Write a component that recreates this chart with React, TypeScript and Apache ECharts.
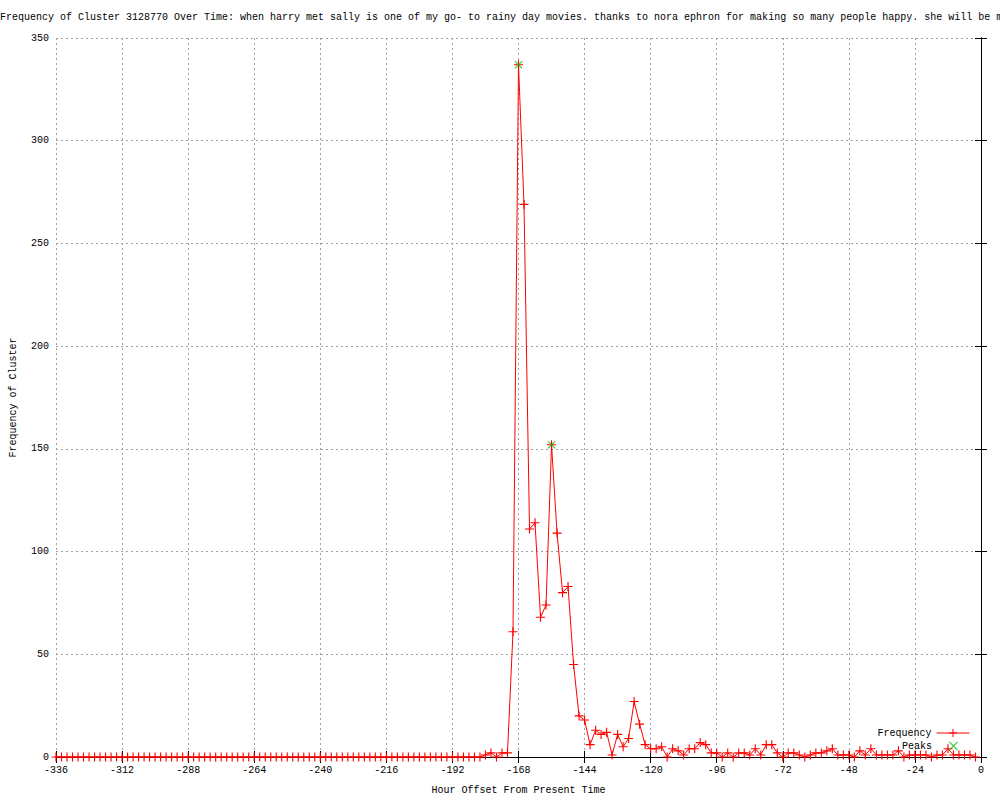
import React, { useEffect, useRef } from "react";
import * as echarts from "echarts";

const TITLE =
  "Frequency of Cluster 3128770 Over Time: when harry met sally is one of my go- to rainy day movies. thanks to nora ephron for making so many people happy. she will be missed.";

// hour offsets, every 2 hours from -336 to -2
const START_HOUR = -336;
const STEP_HOURS = 2;

const frequency = [
  // -336 .. -182 (78 points)
  0, 0, 0, 0, 0, 0, 0, 0, 0, 0, 0, 0, 0, 0, 0, 0, 0, 0, 0, 0,
  0, 0, 0, 0, 0, 0, 0, 0, 0, 0, 0, 0, 0, 0, 0, 0, 0, 0, 0, 0,
  0, 0, 0, 0, 0, 0, 0, 0, 0, 0, 0, 0, 0, 0, 0, 0, 0, 0, 0, 0,
  0, 0, 0, 0, 0, 0, 0, 0, 0, 0, 0, 0, 0, 0, 0, 0, 0, 0,
  // -180 .. -142
  1, 2, 0, 2, 2, 61, 337, 269, 111, 114, 68, 74, 152, 109, 80, 83, 45, 20, 18, 6,
  // -140 .. -102
  13, 11, 12, 1, 11, 5, 9, 27, 16, 6, 4, 4, 5, 0, 4, 3, 1, 4, 4, 7,
  // -100 .. -62
  6, 2, 2, 0, 2, 0, 2, 2, 1, 4, 1, 6, 6, 2, 0, 2, 2, 1, 0, 1,
  // -60 .. -22
  2, 2, 3, 4, 1, 1, 1, 0, 3, 1, 4, 1, 1, 1, 1, 3, 0, 1, 1, 1,
  // -20 .. -2
  1, 0, 1, 1, 4, 1, 1, 1, 1, 0,
];

const hours = frequency.map((_, i) => START_HOUR + i * STEP_HOURS);

const peakHours = [-168, -156];
const peakValues = [337, 152];

const xTicks = { min: -336, max: 0, interval: 24 };
const yTicks = { min: 0, max: 350, interval: 50 };

const PLUS = "path://M0,3.5L8,3.5L8,4.5L0,4.5Z M3.5,0L4.5,0L4.5,8L3.5,8Z";
const CROSS =
  "path://M0,0.75L0.75,0L8,7.25L7.25,8Z M7.25,0L8,0.75L0.75,8L0,7.25Z";

const FONT = "Liberation Mono";

export default function App() {
  const ref = useRef<HTMLDivElement>(null);
  useEffect(() => {
    if (!ref.current) return;
    const chart = echarts.init(ref.current, undefined, { renderer: "svg" });
    const axisCommon = {
      type: "value" as const,
      axisLine: { show: true, lineStyle: { color: "#000", width: 1 } },
      axisTick: { show: true, inside: true, length: 6, lineStyle: { color: "#000" } },
    };
    const legendText = { fontFamily: FONT, fontSize: 10, color: "#000" };
    chart.setOption({
      animation: false,
      backgroundColor: "#fff",
      textStyle: { fontFamily: FONT },
      title: {
        text: TITLE,
        left: 0,
        top: 12,
        padding: 0,
        textStyle: { fontFamily: FONT, fontSize: 10, fontWeight: "normal", color: "#000" },
      },
      grid: { left: 55, right: 19, top: 38, bottom: 40, show: false },
      legend: [
        {
          data: [{ name: "Frequency" }],
          right: 30,
          top: 728,
          align: "right",
          itemWidth: 33,
          itemHeight: 10,
          padding: 0,
          lineStyle: { width: 1 },
          textStyle: legendText,
          selectedMode: false,
        },
        {
          data: [{ name: "Peaks" }],
          right: 42,
          top: 741,
          align: "right",
          itemWidth: 33,
          itemHeight: 9,
          padding: 0,
          textStyle: legendText,
          selectedMode: false,
        },
      ],
      xAxis: [
        {
          ...axisCommon,
          position: "bottom",
          min: xTicks.min,
          max: xTicks.max,
          interval: xTicks.interval,
          name: "Hour Offset From Present Time",
          nameLocation: "middle",
          nameGap: 28,
          nameTextStyle: { fontFamily: FONT, fontSize: 10, color: "#000" },
          axisLabel: { margin: 8, fontFamily: FONT, fontSize: 10, color: "#000" },
          splitLine: {
            show: true,
            lineStyle: { color: "#a0a0a0", type: [2, 3], width: 1 },
          },
        },
        {
          ...axisCommon,
          position: "top",
          min: xTicks.min,
          max: xTicks.max,
          interval: xTicks.interval,
          axisLabel: { show: false },
          splitLine: { show: false },
        },
      ],
      yAxis: [
        {
          ...axisCommon,
          position: "left",
          min: yTicks.min,
          max: yTicks.max,
          interval: yTicks.interval,
          name: "Frequency of Cluster",
          nameLocation: "middle",
          nameGap: 38,
          nameRotate: 90,
          nameTextStyle: { fontFamily: FONT, fontSize: 10, color: "#000" },
          axisLabel: { margin: 7, fontFamily: FONT, fontSize: 10, color: "#000" },
          splitLine: {
            show: true,
            lineStyle: { color: "#a0a0a0", type: [2, 3], width: 1 },
          },
        },
        {
          ...axisCommon,
          position: "right",
          min: yTicks.min,
          max: yTicks.max,
          interval: yTicks.interval,
          axisLabel: { show: false },
          splitLine: { show: false },
        },
      ],
      series: [
        {
          name: "Frequency",
          type: "line",
          data: hours.map((h, i) => [h, frequency[i]]),
          symbol: PLUS,
          symbolSize: 9,
          showAllSymbol: true,
          lineStyle: { color: "#ff0000", width: 1 },
          itemStyle: { color: "#ff0000" },
          z: 3,
        },
        {
          name: "Peaks",
          type: "scatter",
          data: peakHours.map((h, i) => [h, peakValues[i]]),
          symbol: CROSS,
          symbolSize: 8,
          itemStyle: { color: "#00c000" },
          z: 4,
        },
      ],
    });
    return () => chart.dispose();
  }, []);
  return (
    <div
      ref={ref}
      style={{ position: "fixed", left: 0, top: 0, width: 1000, height: 800 }}
    />
  );
}
